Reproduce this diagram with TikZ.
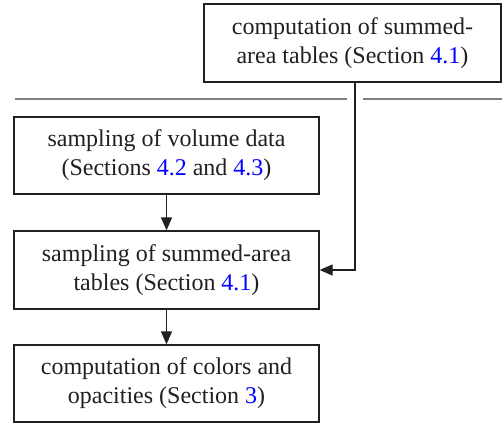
\documentclass[tikz,border=0pt]{standalone}
\usepackage{fontspec}
\setmainfont{Liberation Serif}
\usetikzlibrary{arrows.meta}
\definecolor{ink}{RGB}{35,31,32}
\definecolor{rule}{RGB}{128,128,128}
\definecolor{refblue}{RGB}{0,0,255}
\newcommand{\refn}[1]{\textcolor{refblue}{#1}}
\tikzset{
  stage/.style={draw=ink, line width=1.3pt, rectangle, align=center,
    inner sep=0pt, text=ink,
    font=\rmfamily\fontsize{24}{29}\selectfont},
  tip/.tip={Triangle[length=13pt,width=11pt]},
  flow/.style={draw=ink, line width=1.3pt, -tip},
  divider/.style={draw=rule, line width=1.2pt}
}
\begin{document}
\begin{tikzpicture}[x=1pt,y=-1pt]
\useasboundingbox (0,0) rectangle (502,423);
% precomputation stage
\node[stage, minimum width=297pt, minimum height=78pt] (sat) at (352.5,43)
  {computation of summed-\\area tables (Section \refn{4.1})};
% separator between precomputation and per-sample work
\coordinate (dl0) at (15,99);
\coordinate (dl1) at (347,99);
\coordinate (dr0) at (363,99);
\coordinate (dr1) at (502,99);
\draw[divider] (dl0) -- (dl1);
\draw[divider] (dr0) -- (dr1);
% rendering pipeline
\node[stage, minimum width=305pt, minimum height=77pt] (vol) at (166.5,155.5)
  {sampling of volume data\\(Sections \refn{4.2} and \refn{4.3})};
\node[stage, minimum width=305pt, minimum height=78pt] (samp) at (166.5,270)
  {sampling of summed-area\\tables (Section \refn{4.1})};
\node[stage, minimum width=305pt, minimum height=77pt] (col) at (166.5,383.5)
  {computation of colors and\\opacities (Section \refn{3})};
% connectors
\draw[flow] (vol) -- (samp);
\draw[flow] (samp) -- (col);
\coordinate (bend) at (355,270);
\draw[flow] (sat.south -| bend) -- (bend) -- (samp.east);
\end{tikzpicture}
\end{document}
